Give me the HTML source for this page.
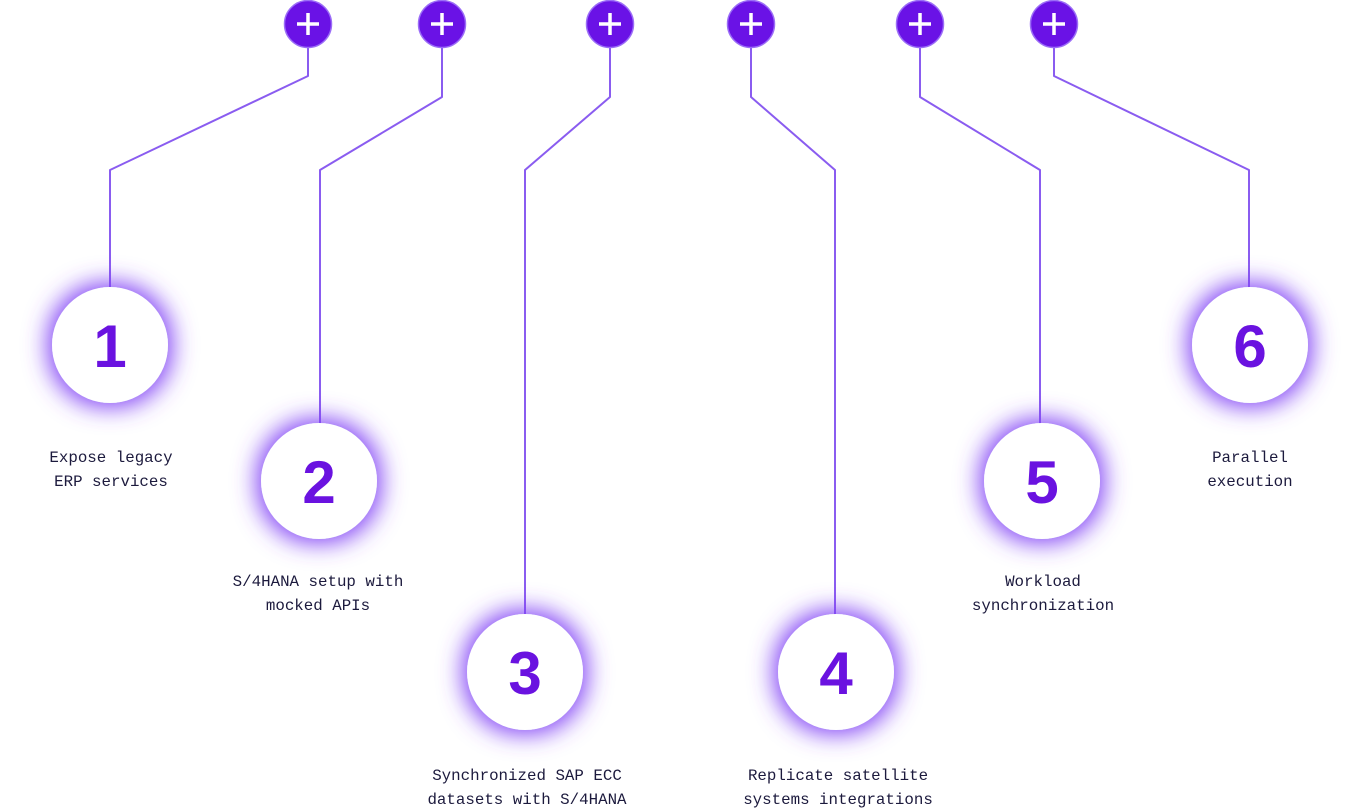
<!DOCTYPE html>
<html><head><meta charset="utf-8"><style>
html,body{margin:0;padding:0;background:#fff;}
svg{display:block;}
.lbl{font-family:"Liberation Mono",monospace;font-size:15.8px;fill:#1c1a3d;text-anchor:middle;}
.num{font-family:"Liberation Sans",sans-serif;font-weight:bold;font-size:60px;fill:#6a12e0;text-anchor:middle;}
</style></head><body>
<svg width="1360" height="810" viewBox="0 0 1360 810" xmlns="http://www.w3.org/2000/svg">
<defs>
<filter id="glow" x="-80%" y="-80%" width="260%" height="260%">
<feMorphology in="SourceAlpha" operator="dilate" radius="4" result="d"/>
<feGaussianBlur in="d" stdDeviation="12" result="b"/>
<feFlood flood-color="#8040f5" flood-opacity="1"/>
<feComposite in2="b" operator="in" result="g"/>
<feMerge><feMergeNode in="g"/><feMergeNode in="SourceGraphic"/></feMerge>
</filter>
</defs>
<g fill="none" stroke="#8a5cf0" stroke-width="2" stroke-linejoin="round">
<path d="M308,48 V76 L110,170 V288"/>
<path d="M442,48 V97 L320,170 V424"/>
<path d="M610,48 V97 L525,170 V616"/>
<path d="M751,48 V97 L835,170 V616"/>
<path d="M920,48 V97 L1040,170 V424"/>
<path d="M1054,48 V76 L1249,170 V288"/>
</g>
<g>
<g transform="translate(308,24)"><circle r="23.5" fill="#6a12e6" stroke="#9b6df7" stroke-width="1.5"/><path d="M-11,0H11M0,-11V11" stroke="#fff" stroke-width="3.5"/></g>
<g transform="translate(442,24)"><circle r="23.5" fill="#6a12e6" stroke="#9b6df7" stroke-width="1.5"/><path d="M-11,0H11M0,-11V11" stroke="#fff" stroke-width="3.5"/></g>
<g transform="translate(610,24)"><circle r="23.5" fill="#6a12e6" stroke="#9b6df7" stroke-width="1.5"/><path d="M-11,0H11M0,-11V11" stroke="#fff" stroke-width="3.5"/></g>
<g transform="translate(751,24)"><circle r="23.5" fill="#6a12e6" stroke="#9b6df7" stroke-width="1.5"/><path d="M-11,0H11M0,-11V11" stroke="#fff" stroke-width="3.5"/></g>
<g transform="translate(920,24)"><circle r="23.5" fill="#6a12e6" stroke="#9b6df7" stroke-width="1.5"/><path d="M-11,0H11M0,-11V11" stroke="#fff" stroke-width="3.5"/></g>
<g transform="translate(1054,24)"><circle r="23.5" fill="#6a12e6" stroke="#9b6df7" stroke-width="1.5"/><path d="M-11,0H11M0,-11V11" stroke="#fff" stroke-width="3.5"/></g>
</g>
<g filter="url(#glow)" fill="#fff">
<circle cx="110" cy="345" r="58"/>
<circle cx="319" cy="481" r="58"/>
<circle cx="525" cy="672" r="58"/>
<circle cx="836" cy="672" r="58"/>
<circle cx="1042" cy="481" r="58"/>
<circle cx="1250" cy="345" r="58"/>
</g>
<text class="num" x="110" y="367">1</text>
<text class="num" x="319" y="503">2</text>
<text class="num" x="525" y="694">3</text>
<text class="num" x="836" y="694">4</text>
<text class="num" x="1042" y="503">5</text>
<text class="num" x="1250" y="367">6</text>
<text class="lbl" x="111" y="462">Expose legacy</text>
<text class="lbl" x="111" y="486">ERP services</text>
<text class="lbl" x="318" y="586">S/4HANA setup with</text>
<text class="lbl" x="318" y="610">mocked APIs</text>
<text class="lbl" x="527" y="780">Synchronized SAP ECC</text>
<text class="lbl" x="527" y="804">datasets with S/4HANA</text>
<text class="lbl" x="838" y="780">Replicate satellite</text>
<text class="lbl" x="838" y="804">systems integrations</text>
<text class="lbl" x="1043" y="586">Workload</text>
<text class="lbl" x="1043" y="610">synchronization</text>
<text class="lbl" x="1250" y="462">Parallel</text>
<text class="lbl" x="1250" y="486">execution</text>
</svg>
</body></html>
